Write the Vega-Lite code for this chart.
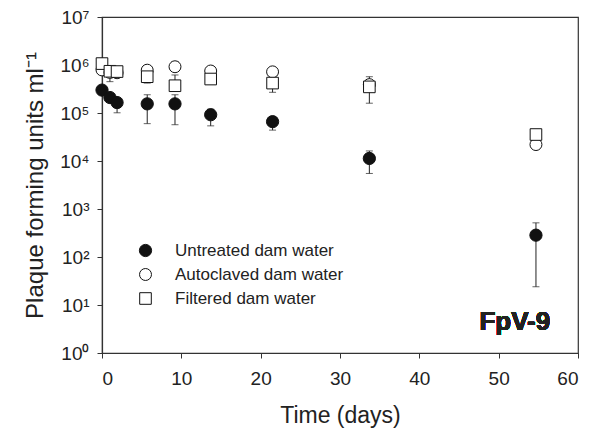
{
  "$schema": "https://vega.github.io/schema/vega-lite/v6.json",
  "autosize": "none",
  "width": 476,
  "height": 336,
  "padding": {"left": 102, "top": 17, "right": 23, "bottom": 79},
  "background": "white",
  "config": {
    "font": "Liberation Sans",
    "view": {"stroke": "#333333", "strokeWidth": 1.2},
    "axis": {
      "grid": false,
      "domainColor": "#333333",
      "domainWidth": 1.2,
      "tickColor": "#333333",
      "tickSize": 5,
      "labelColor": "#222222",
      "titleColor": "#222222",
      "labelFont": "Liberation Sans",
      "titleFont": "Liberation Sans",
      "titleFontWeight": "normal"
    }
  },
  "data": {
    "values": [
      {"series": "Untreated dam water", "day": 0, "pfu": 300000},
      {"series": "Untreated dam water", "day": 1.0, "pfu": 210000},
      {"series": "Untreated dam water", "day": 1.9, "pfu": 165000, "lo": 101000, "hi": 200000},
      {"series": "Untreated dam water", "day": 5.7, "pfu": 155000, "lo": 60000, "hi": 240000},
      {"series": "Untreated dam water", "day": 9.2, "pfu": 155000, "lo": 57000, "hi": 240000},
      {"series": "Untreated dam water", "day": 13.7, "pfu": 92000, "lo": 54000, "hi": 120000},
      {"series": "Untreated dam water", "day": 21.5, "pfu": 66000, "lo": 44000, "hi": 80000},
      {"series": "Untreated dam water", "day": 33.7, "pfu": 11300, "lo": 5500, "hi": 16200},
      {"series": "Untreated dam water", "day": 54.7, "pfu": 285, "lo": 24, "hi": 515},
      {"series": "Autoclaved dam water", "day": 0, "pfu": 790000},
      {"series": "Autoclaved dam water", "day": 1.0, "pfu": 700000},
      {"series": "Autoclaved dam water", "day": 1.9, "pfu": 690000},
      {"series": "Autoclaved dam water", "day": 5.7, "pfu": 780000},
      {"series": "Autoclaved dam water", "day": 9.2, "pfu": 920000, "lo": 800000, "hi": 1170000},
      {"series": "Autoclaved dam water", "day": 13.7, "pfu": 750000},
      {"series": "Autoclaved dam water", "day": 21.5, "pfu": 720000},
      {"series": "Autoclaved dam water", "day": 33.7, "pfu": 390000},
      {"series": "Autoclaved dam water", "day": 54.7, "pfu": 22000},
      {"series": "Filtered dam water", "day": 0, "pfu": 1070000},
      {"series": "Filtered dam water", "day": 1.0, "pfu": 740000, "lo": 450000, "hi": 800000},
      {"series": "Filtered dam water", "day": 1.9, "pfu": 730000},
      {"series": "Filtered dam water", "day": 5.7, "pfu": 570000, "lo": 420000, "hi": 600000},
      {"series": "Filtered dam water", "day": 9.2, "pfu": 370000, "lo": 340000, "hi": 620000},
      {"series": "Filtered dam water", "day": 13.7, "pfu": 510000},
      {"series": "Filtered dam water", "day": 21.5, "pfu": 420000, "lo": 270000, "hi": 460000},
      {"series": "Filtered dam water", "day": 33.7, "pfu": 350000, "lo": 160000, "hi": 570000},
      {"series": "Filtered dam water", "day": 54.7, "pfu": 35600, "lo": 32000, "hi": 39000}
    ]
  },
  "encoding": {
    "x": {
      "field": "day",
      "type": "quantitative",
      "scale": {"domain": [0, 60], "nice": false, "zero": false},
      "axis": {
        "title": "Time (days)",
        "values": [0, 10, 20, 30, 40, 50, 60],
        "labelFontSize": 19,
        "labelPadding": 11,
        "titleFontSize": 23,
        "titlePadding": 16
      }
    }
  },
  "layer": [
    {
      "transform": [{"filter": "isValid(datum.lo)"}],
      "mark": {"type": "rule", "color": "#222222", "strokeWidth": 1},
      "encoding": {
        "y": {"field": "lo", "type": "quantitative", "scale": {"type": "log", "domain": [1, 10000000], "nice": false}},
        "y2": {"field": "hi"}
      }
    },
    {
      "transform": [{"filter": "isValid(datum.lo)"}],
      "mark": {"type": "tick", "orient": "horizontal", "color": "#222222", "size": 7, "thickness": 1},
      "encoding": {
        "y": {"field": "lo", "type": "quantitative"}
      }
    },
    {
      "transform": [{"filter": "isValid(datum.hi)"}],
      "mark": {"type": "tick", "orient": "horizontal", "color": "#222222", "size": 7, "thickness": 1},
      "encoding": {
        "y": {"field": "hi", "type": "quantitative"}
      }
    },
    {
      "mark": {"type": "point", "filled": true, "stroke": "#111111", "strokeWidth": 1, "opacity": 1},
      "encoding": {
        "y": {
          "field": "pfu",
          "type": "quantitative",
          "scale": {"type": "log", "domain": [1, 10000000], "nice": false},
          "axis": {
            "title": "Plaque forming units ml⁻¹",
            "values": [1, 10, 100, 1000, 10000, 100000, 1000000, 10000000],
            "labelExpr": "'10' + ['⁰','¹','²','³','⁴','⁵','⁶','⁷'][round(log(datum.value) / LN10)]",
            "labelFontSize": 19,
            "labelPadding": 8,
            "titleFontSize": 24,
            "titlePadding": 12
          }
        },
        "fill": {
          "field": "series",
          "type": "nominal",
          "sort": ["Untreated dam water", "Autoclaved dam water", "Filtered dam water"],
          "scale": {"domain": ["Untreated dam water", "Autoclaved dam water", "Filtered dam water"], "range": ["#111111", "white", "white"]},
          "legend": {
            "title": null,
            "orient": "none",
            "legendX": 35,
            "legendY": 225,
            "padding": 0,
            "labelFontSize": 17,
            "labelLimit": 400,
            "labelColor": "#222222",
            "labelOffset": 21,
            "rowPadding": 6,
            "symbolStrokeColor": "#111111",
            "symbolStrokeWidth": 1
          }
        },
        "shape": {
          "field": "series",
          "type": "nominal",
          "sort": ["Untreated dam water", "Autoclaved dam water", "Filtered dam water"],
          "scale": {"domain": ["Untreated dam water", "Autoclaved dam water", "Filtered dam water"], "range": ["circle", "circle", "square"]}
        },
        "size": {
          "field": "series",
          "type": "nominal",
          "sort": ["Untreated dam water", "Autoclaved dam water", "Filtered dam water"],
          "scale": {"domain": ["Untreated dam water", "Autoclaved dam water", "Filtered dam water"], "range": [150, 135, 100]}
        }
      }
    },
    {
      "mark": {"type": "text", "text": "FpV-9", "align": "right", "baseline": "alphabetic", "fontSize": 26, "fontWeight": "bold", "color": "#222222"},
      "encoding": {
        "x": {"datum": 56.5, "type": "quantitative"},
        "y": {"datum": 3, "type": "quantitative"}
      }
    }
  ]
}
